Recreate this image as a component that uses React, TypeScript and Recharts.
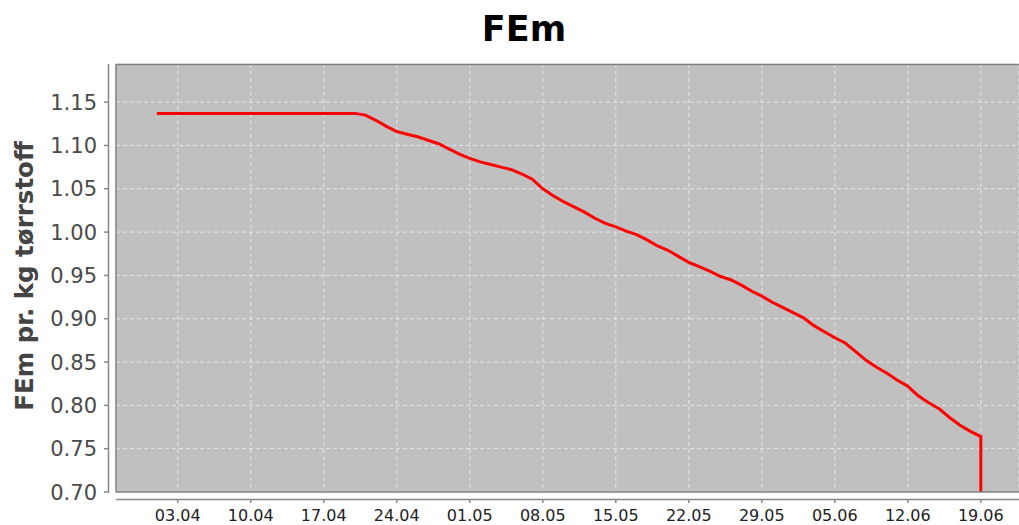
import React from 'react'
import { LineChart, Line, XAxis, YAxis, CartesianGrid } from 'recharts'

// day 0 = 03.04
const days = [
  -2, -1, 0, 1, 2, 3, 4, 5, 6, 7, 8, 9, 10, 11, 12, 13, 14, 15, 16, 17,
  18, 19, 20, 21, 22, 23, 24, 25, 26, 27, 28, 29, 30, 31, 32, 33, 34, 35, 36, 37,
  38, 39, 40, 41, 42, 43, 44, 45, 46, 47, 48, 49, 50, 51, 52, 53, 54, 55, 56, 57,
  58, 59, 60, 61, 62, 63, 64, 65, 66, 67, 68, 69, 70, 71, 72, 73, 74, 75, 76, 77, 77,
]

const femValues = [
  1.137, 1.137, 1.137, 1.137, 1.137, 1.137, 1.137, 1.137, 1.137, 1.137,
  1.137, 1.137, 1.137, 1.137, 1.137, 1.137, 1.137, 1.137, 1.137, 1.137,
  1.135, 1.129, 1.122, 1.116, 1.113, 1.11, 1.106, 1.102, 1.096, 1.09,
  1.085, 1.081, 1.078, 1.075, 1.072, 1.067, 1.061, 1.05, 1.042, 1.035,
  1.029, 1.023, 1.016, 1.01, 1.006, 1.001, 0.997, 0.991, 0.984, 0.979,
  0.972, 0.965, 0.96, 0.955, 0.949, 0.945, 0.939, 0.932, 0.926, 0.919,
  0.913, 0.907, 0.901, 0.892, 0.885, 0.878, 0.872, 0.862, 0.852, 0.844,
  0.837, 0.829, 0.822, 0.811, 0.803, 0.796, 0.786, 0.777, 0.77, 0.764, 0.7,
]

const xTicks = [0, 7, 14, 21, 28, 35, 42, 49, 56, 63, 70, 77]
const xTickLabels = ['03.04', '10.04', '17.04', '24.04', '01.05', '08.05', '15.05', '22.05', '29.05', '05.06', '12.06', '19.06']
const yTicks = [0.7, 0.75, 0.8, 0.85, 0.9, 0.95, 1.0, 1.05, 1.1, 1.15]

const data = days.map((day, i) => ({ day, fem: femValues[i] }))

const font = 'DejaVu Sans, sans-serif'

const YTick = (props: any) => {
  const { x, y, payload } = props
  return (
    <g>
      <line x1={x - 12} x2={x - 8} y1={y} y2={y} stroke="#888" strokeWidth={1.5} />
      <text x={x - 19} y={y} dy="0.36em" textAnchor="end" fontFamily={font} fontSize={21} fill="#4a4a4a">
        {Number(payload.value).toFixed(2)}
      </text>
    </g>
  )
}

const XTick = (props: any) => {
  const { x, y, payload } = props
  const idx = xTicks.indexOf(payload.value)
  return (
    <g>
      <line x1={x} x2={x} y1={y + 7} y2={y + 11} stroke="#888" strokeWidth={1.5} />
      <text x={x} y={y + 29} textAnchor="middle" fontFamily={font} fontSize={16} fill="#222">
        {idx >= 0 ? xTickLabels[idx] : ''}
      </text>
    </g>
  )
}

export default function App() {
  return (
    <div style={{ position: 'fixed', left: 0, top: 0, width: 1019, height: 525, background: '#fff' }}>
      <LineChart width={1019} height={525} data={data} margin={{ top: 64, right: 0, bottom: 0, left: 0 }}>
        <CartesianGrid fill="#c0c0c0" stroke="#e6e6e6" strokeDasharray="4 3" strokeWidth={1} />
        <XAxis
          dataKey="day"
          type="number"
          domain={[-5.92, 80.66]}
          ticks={xTicks}
          allowDataOverflow
          height={33}
          tickLine={false}
          tickSize={0}
          tickMargin={0}
          axisLine={{ stroke: '#808080', strokeWidth: 1.5 }}
          tick={<XTick />}
          interval={0}
        />
        <YAxis
          type="number"
          domain={[0.7, 1.194]}
          ticks={yTicks}
          allowDataOverflow
          width={116}
          tickLine={false}
          tickSize={0}
          tickMargin={0}
          axisLine={{ stroke: '#808080', strokeWidth: 1.5 }}
          tick={<YTick />}
          interval={0}
        />
        <Line
          type="linear"
          dataKey="fem"
          stroke="#ff0000"
          strokeWidth={3}
          dot={false}
          isAnimationActive={false}
        />
      </LineChart>
      <svg
        width={1019}
        height={525}
        style={{ position: 'absolute', left: 0, top: 0, pointerEvents: 'none' }}
      >
        <line x1={116} x2={1019} y1={64.5} y2={64.5} stroke="#808080" strokeWidth={1.5} />
        <line x1={108.5} x2={108.5} y1={64} y2={493} stroke="#888" strokeWidth={1.5} />
        <line x1={116} x2={1019} y1={499.5} y2={499.5} stroke="#888" strokeWidth={1.5} />
        <text x={524} y={41} textAnchor="middle" fontFamily={font} fontWeight="bold" fontSize={35} fill="#000">
          FEm
        </text>
        <text
          transform="translate(33, 276) rotate(-90)"
          textAnchor="middle"
          fontFamily={font}
          fontWeight="bold"
          fontSize={24.5}
          fill="#444"
        >
          FEm pr. kg tørrstoff
        </text>
      </svg>
    </div>
  )
}
